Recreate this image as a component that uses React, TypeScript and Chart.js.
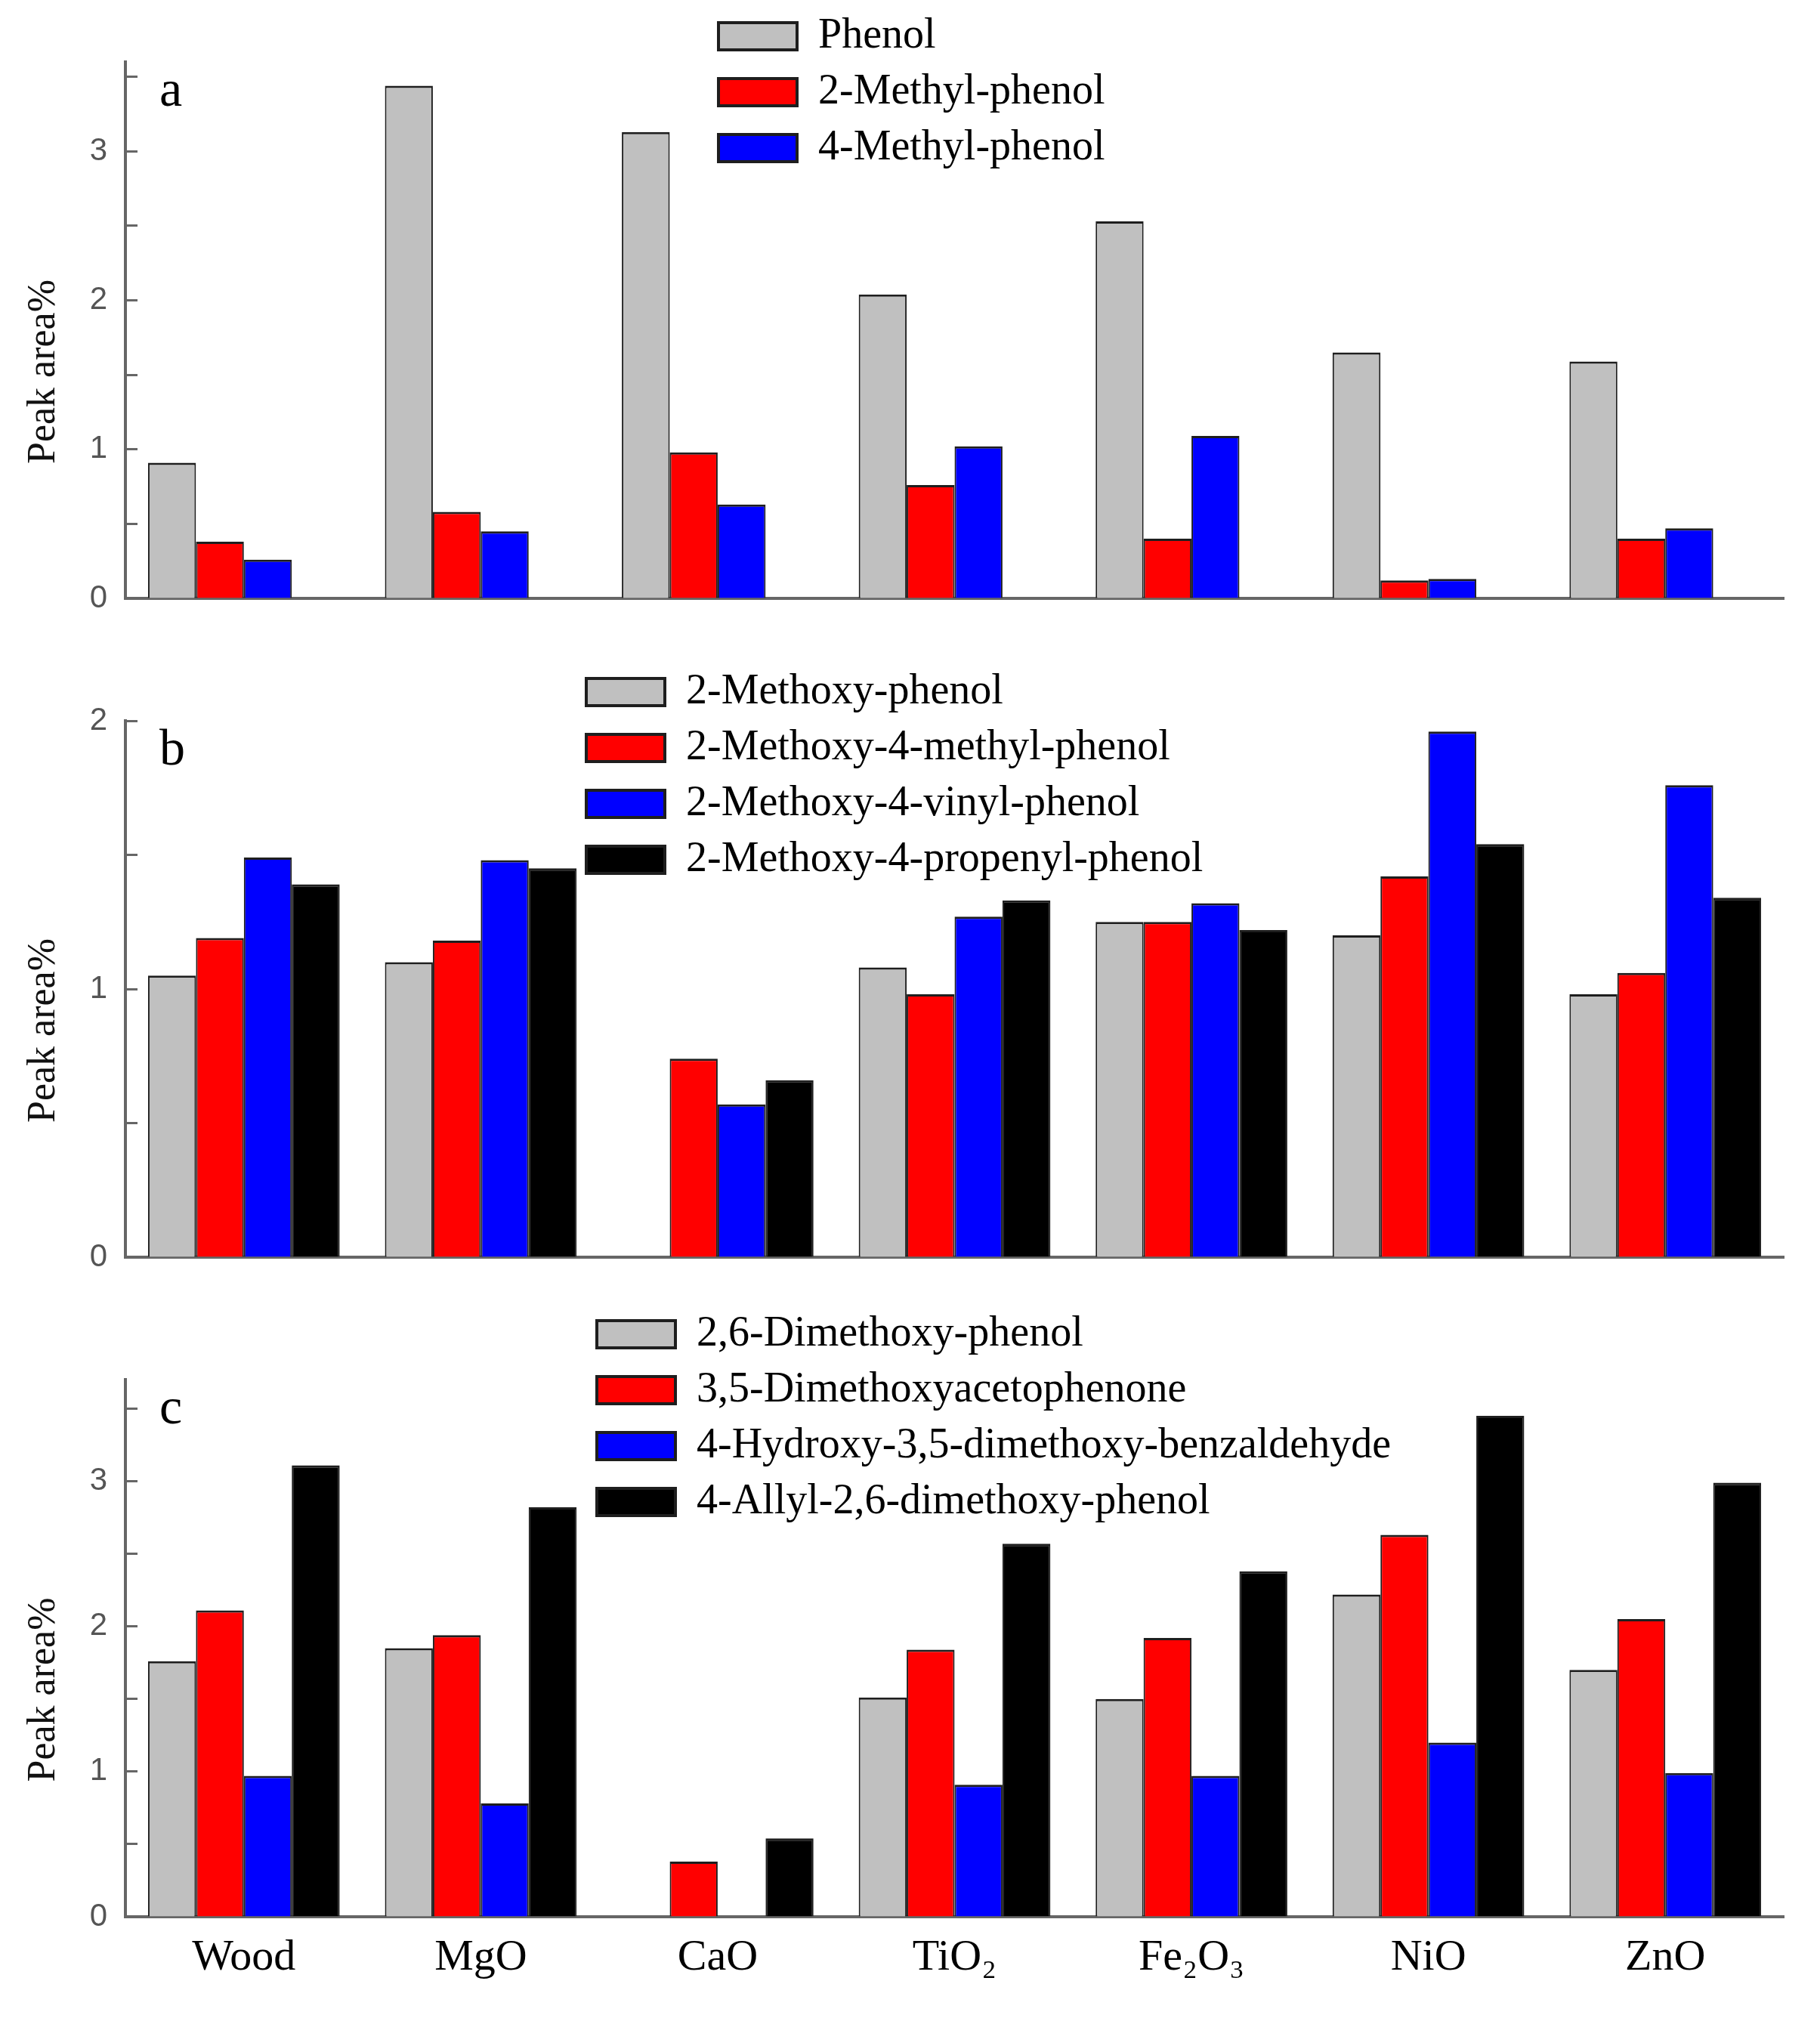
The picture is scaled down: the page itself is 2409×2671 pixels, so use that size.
import { useEffect, useRef } from "react"
import { Chart, registerables } from "chart.js"

Chart.register(...registerables)
Chart.defaults.font.family = "'Liberation Serif', 'Times New Roman', serif"

// categories (catalysts)
const catalysts = ["Wood", "MgO", "CaO", "TiO₂", "Fe₂O₃", "NiO", "ZnO"]

// panel a: phenols
const phenolNames = ["Phenol", "2-Methyl-phenol", "4-Methyl-phenol"]
const phenol = [0.91, 3.44, 3.13, 2.04, 2.53, 1.65, 1.59]
const methylPhenol2 = [0.38, 0.58, 0.98, 0.76, 0.4, 0.12, 0.4]
const methylPhenol4 = [0.26, 0.45, 0.63, 1.02, 1.09, 0.13, 0.47]

// panel b: guaiacols
const guaiacolNames = [
  "2-Methoxy-phenol",
  "2-Methoxy-4-methyl-phenol",
  "2-Methoxy-4-vinyl-phenol",
  "2-Methoxy-4-propenyl-phenol",
]
const methoxyPhenol = [1.05, 1.1, null, 1.08, 1.25, 1.2, 0.98]
const methoxyMethylPhenol = [1.19, 1.18, 0.74, 0.98, 1.25, 1.42, 1.06]
const methoxyVinylPhenol = [1.49, 1.48, 0.57, 1.27, 1.32, 1.96, 1.76]
const methoxyPropenylPhenol = [1.39, 1.45, 0.66, 1.33, 1.22, 1.54, 1.34]

// panel c: syringols
const syringolNames = [
  "2,6-Dimethoxy-phenol",
  "3,5-Dimethoxyacetophenone",
  "4-Hydroxy-3,5-dimethoxy-benzaldehyde",
  "4-Allyl-2,6-dimethoxy-phenol",
]
const dimethoxyPhenol = [1.76, 1.85, null, 1.51, 1.5, 2.22, 1.7]
const dimethoxyAcetophenone = [2.11, 1.94, 0.38, 1.84, 1.92, 2.63, 2.05]
const hydroxyDimethoxyBenzaldehyde = [0.97, 0.78, null, 0.91, 0.97, 1.2, 0.99]
const allylDimethoxyPhenol = [3.11, 2.82, 0.54, 2.57, 2.38, 3.45, 2.99]

// y tick labels
const yTicksA = [0, 1, 2, 3]
const yTicksB = [0, 1, 2]
const yTicksC = [0, 1, 2, 3]

const yTitle = "Peak area%"

const fills = ["#c0c0c0", "#ff0000", "#0000ff", "#000000"]
const axisColor = "#666666"
const serif = "'Liberation Serif', 'Times New Roman', serif"

type Series = (number | null)[]

interface PanelProps {
  letter: string
  names: string[]
  series: Series[]
  yMax: number
  yTicks: number[]
  showCategories: boolean
  top: number
  height: number
  padTop: number
  xHeight: number
  legendX: number
  legendY: number
}

function Panel(props: PanelProps) {
  const canvasRef = useRef<HTMLCanvasElement>(null)

  useEffect(() => {
    if (!canvasRef.current) return
    const { letter, names, series, yMax, yTicks, showCategories, padTop, xHeight, legendX, legendY } = props

    // always reserve four bar slots per group, as in the original figure
    const datasets = [0, 1, 2, 3].map((i) => ({
      label: names[i] ?? "",
      data: series[i] ?? catalysts.map(() => null),
      backgroundColor: fills[i],
      borderColor: "#1e1e1e",
      borderWidth: { top: 3, left: 2, right: 2, bottom: 0 },
      barPercentage: 1,
      categoryPercentage: 0.809,
    }))

    const extras = {
      id: "panelExtras",
      afterLayout(chart: any) {
        // park the legend where it sits in the figure
        const lg = chart.legend
        if (!lg) return
        lg.left = legendX
        lg.top = legendY
        lg.right = chart.width
        lg.bottom = chart.height
        lg.width = chart.width - legendX
        lg.height = chart.height - legendY
      },
      afterDraw(chart: any) {
        const { ctx, chartArea } = chart
        ctx.save()
        ctx.fillStyle = "#000"
        ctx.textBaseline = "alphabetic"
        ctx.font = `68px ${serif}`
        ctx.fillText(letter, chartArea.left + 45, chartArea.top + 58)

        // axis title, a bit below the middle of the axis
        ctx.font = `52px ${serif}`
        ctx.fillStyle = "#111"
        ctx.textAlign = "center"
        ctx.translate(72, (chartArea.top + chartArea.bottom) / 2 + 55)
        ctx.rotate(-Math.PI / 2)
        ctx.fillText(yTitle, 0, 0)
        ctx.restore()
      },
    }

    const chart = new Chart(canvasRef.current, {
      type: "bar",
      data: { labels: catalysts, datasets },
      plugins: [extras],
      options: {
        animation: false,
        responsive: true,
        maintainAspectRatio: false,
        layout: { padding: { top: padTop, right: 48, bottom: 0, left: 0 } },
        plugins: {
          tooltip: { enabled: false },
          title: { display: false },
          legend: {
            position: "chartArea" as any,
            align: "start",
            labels: {
              boxWidth: 104,
              boxHeight: 36,
              padding: 18,
              color: "#000",
              font: { family: serif, size: 56 },
              generateLabels: (c: any) =>
                Chart.defaults.plugins.legend.labels
                  .generateLabels(c)
                  .filter((item: any) => item.text !== "")
                  .map((item: any) => ({ ...item, lineWidth: 4, strokeStyle: "#1e1e1e" })),
            },
          },
        },
        scales: {
          x: {
            offset: true,
            grid: { display: true, drawOnChartArea: false, drawTicks: false },
            border: { display: true, color: axisColor, width: 4 },
            ticks: {
              display: showCategories,
              color: "#000",
              font: { family: serif, size: 58 },
              padding: 20,
              maxRotation: 0,
              autoSkip: false,
            },
            afterFit: (s: any) => {
              s.height = xHeight
              s.paddingLeft = 0
              s.paddingRight = 0
            },
          },
          y: {
            min: 0,
            max: yMax,
            grid: {
              drawOnChartArea: false,
              drawTicks: true,
              tickLength: -16,
              tickWidth: 3,
              tickColor: axisColor,
            },
            border: { display: true, color: axisColor, width: 4 },
            ticks: {
              stepSize: 0.5,
              includeBounds: false,
              padding: 40,
              color: "#555",
              font: { family: "'Liberation Sans', Arial, sans-serif", size: 42 },
              callback: (v: any) => {
                const n = Number(v)
                return yTicks.some((t) => Math.abs(t - n) < 1e-6) ? String(Math.round(n)) : ""
              },
            },
            title: { display: false },
            afterFit: (s: any) => {
              s.width = 166
              s.paddingTop = 0
              s.paddingBottom = 0
            },
          },
        },
      },
    })

    return () => chart.destroy()
  }, [props])

  return (
    <div style={{ position: "absolute", left: 0, top: props.top, width: 2409, height: props.height }}>
      <canvas ref={canvasRef}></canvas>
    </div>
  )
}

const panelA: PanelProps = {
  letter: "a",
  names: phenolNames,
  series: [phenol, methylPhenol2, methylPhenol4],
  yMax: 3.6,
  yTicks: yTicksA,
  showCategories: false,
  top: 0,
  height: 860,
  padTop: 82,
  xHeight: 68,
  legendX: 933,
  legendY: 2,
}

const panelB: PanelProps = {
  letter: "b",
  names: guaiacolNames,
  series: [methoxyPhenol, methoxyMethylPhenol, methoxyVinylPhenol, methoxyPropenylPhenol],
  yMax: 2,
  yTicks: yTicksB,
  showCategories: false,
  top: 860,
  height: 860,
  padTop: 94,
  xHeight: 56,
  legendX: 758,
  legendY: 10,
}

const panelC: PanelProps = {
  letter: "c",
  names: syringolNames,
  series: [dimethoxyPhenol, dimethoxyAcetophenone, hydroxyDimethoxyBenzaldehyde, allylDimethoxyPhenol],
  yMax: 3.7,
  yTicks: yTicksC,
  showCategories: true,
  top: 1720,
  height: 951,
  padTop: 106,
  xHeight: 134,
  legendX: 772,
  legendY: 0,
}

export default function App() {
  return (
    <div
      style={{
        position: "absolute",
        left: 0,
        top: 0,
        width: 2409,
        height: 2671,
        background: "#fff",
        overflow: "hidden",
      }}
    >
      <Panel {...panelA} />
      <Panel {...panelB} />
      <Panel {...panelC} />
    </div>
  )
}
